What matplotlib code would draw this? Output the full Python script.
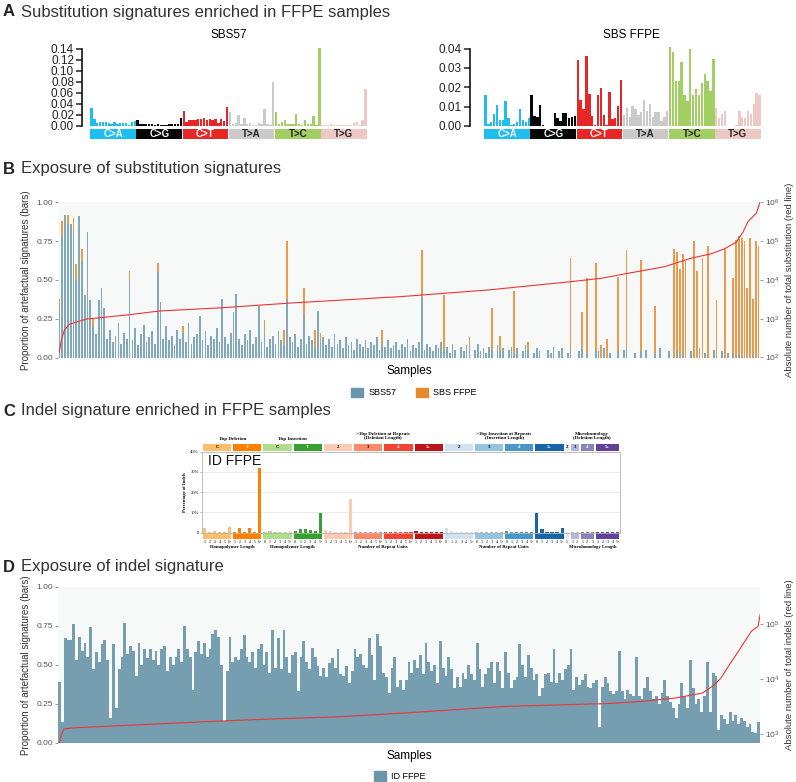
import numpy as np
import matplotlib.pyplot as plt
from matplotlib.patches import Patch
from matplotlib.ticker import NullLocator, LogLocator

plt.rcParams['font.family'] = ['Liberation Sans', 'DejaVu Sans']
SERIF = ['Liberation Serif', 'DejaVu Serif']

W, H = 796, 782

# ---------------- panel A: SBS96 profiles
sbs_types = ['C>A', 'C>G', 'C>T', 'T>A', 'T>C', 'T>G']
sbs57 = [
    0.033, 0.012, 0.005, 0.008, 0.008, 0.007, 0.006, 0.004, 0.008, 0.003, 0.005, 0.006, 0.005, 0.002, 0.008, 0.009,
    0.011, 0.004, 0.003, 0.003, 0.003, 0.003, 0.002, 0.003, 0.002, 0.001, 0.001, 0.003, 0.003, 0.004, 0.003, 0.015,
    0.028, 0.008, 0.010, 0.011, 0.010, 0.013, 0.012, 0.015, 0.010, 0.012, 0.011, 0.013, 0.006, 0.012, 0.009, 0.034,
    0.026, 0.004, 0.006, 0.020, 0.003, 0.014, 0.004, 0.005, 0.001, 0.001, 0.005, 0.004, 0.030, 0.003, 0.001, 0.080,
    0.026, 0.003, 0.008, 0.011, 0.003, 0.003, 0.004, 0.021, 0.003, 0.002, 0.011, 0.003, 0.004, 0.018, 0.002, 0.141,
    0.002, 0.001, 0.001, 0.003, 0.001, 0.001, 0.001, 0.002, 0.001, 0.001, 0.001, 0.005, 0.008, 0.002, 0.011, 0.066,
]
sbs_ffpe = [
    0.016, 0.001, 0.002, 0.006, 0.011, 0.003, 0.003, 0.013, 0.004, 0.0005, 0.001, 0.002, 0.009, 0.003, 0.002, 0.004,
    0.016, 0.005, 0.0045, 0.011, 0.0005, 0.0, 0.0, 0.0, 0.0065, 0.004, 0.0025, 0.0065, 0.0068, 0.004, 0.0045, 0.005,
    0.034, 0.0135, 0.009, 0.036, 0.0165, 0.005, 0.0005, 0.016, 0.0195, 0.0055, 0.0005, 0.0175, 0.0035, 0.004, 0.0105, 0.0235,
    0.0055, 0.0095, 0.0045, 0.0105, 0.009, 0.0055, 0.007, 0.0135, 0.008, 0.0115, 0.0045, 0.007, 0.007, 0.0025, 0.0045, 0.0075,
    0.041, 0.038, 0.023, 0.023, 0.033, 0.016, 0.013, 0.040, 0.016, 0.019, 0.016, 0.022, 0.027, 0.023, 0.018, 0.0345,
    0.0095, 0.004, 0.006, 0.0075, 0.0, 0.0, 0.0, 0.0005, 0.0075, 0.0045, 0.004, 0.0075, 0.006, 0.0115, 0.017, 0.016,
]
sbs57_ticks = [0.00, 0.02, 0.04, 0.06, 0.08, 0.10, 0.12, 0.14]
ffpe_ticks = [0.00, 0.01, 0.02, 0.03, 0.04]

# ---------------- panel B: exposures of SBS57 / SBS FFPE (samples sorted by total)
b_sbs57 = [
    0.31, 0.79, 0.92, 0.86, 0.86, 0.82, 0.50, 0.91, 0.62, 0.40,
    0.81, 0.37, 0.20, 0.15, 0.37, 0.45, 0.32, 0.12, 0.18, 0.10,
    0.14, 0.22, 0.09, 0.16, 0.12, 0.50, 0.11, 0.19, 0.08, 0.15,
    0.21, 0.10, 0.13, 0.17, 0.09, 0.55, 0.36, 0.12, 0.20, 0.11,
    0.14, 0.08, 0.18, 0.12, 0.16, 0.10, 0.22, 0.09, 0.13, 0.15,
    0.27, 0.11, 0.17, 0.08, 0.14, 0.12, 0.19, 0.10, 0.38, 0.13,
    0.09, 0.16, 0.29, 0.41, 0.12, 0.08, 0.15, 0.11, 0.18, 0.09,
    0.13, 0.33, 0.10, 0.16, 0.07, 0.12, 0.14, 0.09, 0.17, 0.11,
    0.08, 0.38, 0.13, 0.10, 0.15, 0.07, 0.12, 0.28, 0.09, 0.14,
    0.11, 0.06, 0.30, 0.10, 0.13, 0.08, 0.12, 0.07, 0.15, 0.09,
    0.11, 0.06, 0.13, 0.08, 0.10, 0.05, 0.12, 0.09, 0.07, 0.11,
    0.06, 0.10, 0.08, 0.13, 0.05, 0.09, 0.07, 0.11, 0.06, 0.08,
    0.10, 0.05, 0.09, 0.07, 0.12, 0.04, 0.08, 0.06, 0.10, 0.39,
    0.05, 0.09, 0.07, 0.04, 0.08, 0.06, 0.10, 0.05, 0.07, 0.03,
    0.09, 0.05, 0.00, 0.07, 0.04, 0.08, 0.06, 0.00, 0.05, 0.09,
    0.04, 0.06, 0.03, 0.07, 0.05, 0.00, 0.08, 0.04, 0.06, 0.00,
    0.05, 0.07, 0.03, 0.06, 0.00, 0.04, 0.08, 0.05, 0.00, 0.03,
    0.06, 0.04, 0.00, 0.00, 0.05, 0.03, 0.07, 0.00, 0.04, 0.06,
    0.00, 0.03, 0.05, 0.00, 0.00, 0.04, 0.06, 0.00, 0.03, 0.00,
    0.00, 0.05, 0.04, 0.00, 0.06, 0.00, 0.03, 0.00, 0.00, 0.04,
    0.00, 0.05, 0.07, 0.00, 0.00, 0.03, 0.00, 0.04, 0.00, 0.05,
    0.00, 0.00, 0.03, 0.00, 0.06, 0.00, 0.00, 0.04, 0.00, 0.00,
    0.05, 0.00, 0.03, 0.00, 0.00, 0.04, 0.00, 0.00, 0.06, 0.00,
    0.03, 0.00, 0.00, 0.05, 0.00, 0.00, 0.04, 0.00, 0.03, 0.00,
    0.02, 0.00, 0.03, 0.00, 0.02, 0.00, 0.00, 0.02, 0.00, 0.00,
]
# SBS FFPE exposure is zero in most samples: sample index -> value
b_ffpe_samples = [0, 1, 3, 5, 6, 8, 12, 25, 35, 44, 73, 80, 81, 87, 91, 93, 115, 129, 137,
                  146, 154, 157, 162, 167, 182, 186, 188, 191, 193, 195, 199, 202, 207, 212,
                  219, 220, 221, 222, 223, 226, 227, 229, 231, 234, 237, 240, 241, 242, 243,
                  244, 245, 246, 247, 248, 249]
b_ffpe_values = [0.07, 0.09, 0.06, 0.08, 0.10, 0.08, 0.05, 0.06, 0.06, 0.04, 0.08, 0.10, 0.37,
                 0.17, 0.12, 0.06, 0.09, 0.30, 0.35, 0.07, 0.27, 0.10, 0.40, 0.05, 0.59, 0.23,
                 0.48, 0.56, 0.08, 0.12, 0.48, 0.62, 0.59, 0.30, 0.70, 0.63, 0.57, 0.64, 0.62,
                 0.75, 0.56, 0.64, 0.72, 0.37, 0.70, 0.49, 0.76, 0.75, 0.77, 0.73, 0.45, 0.77,
                 0.36, 0.75, 0.72]
# total substitutions (red line), read at sample ranks
b_line_sample = [0, 0.7, 1.8, 3.6, 9.6, 24.6, 35.6, 57.7, 81.5, 121.8, 152.7, 181.6, 193,
                 202.5, 215.5, 225, 232, 236.8, 241, 243.5, 245.2, 248.2, 249.5]
b_line_total = [138, 282, 513, 724, 977, 1260, 1580, 1910, 2510, 3720, 5500, 8910, 11000,
                14800, 21900, 36300, 46800, 63100, 93300, 174000, 316000, 525000, 1000000]

# ---------------- panel C: ID83 profile of ID FFPE (%)
id_classes = ['C', 'T', 'C', 'T', '2', '3', '4', '5+', '2', '3', '4', '5+', '2', '3', '4', '5+']
id_class_sizes = [6] * 12 + [1, 2, 3, 5]
id_channel_labels = (['1', '2', '3', '4', '5', '6+'] * 2 + ['0', '1', '2', '3', '4', '5+'] * 2 +
                     ['1', '2', '3', '4', '5', '6+'] * 4 + ['0', '1', '2', '3', '4', '5+'] * 4 +
                     ['1', '1', '2', '1', '2', '3', '1', '2', '3', '4', '5+'])
id_headers = ['1bp Deletion', '1bp Insertion', '>1bp Deletion at Repeats\n(Deletion Length)',
              '>1bp Insertion at Repeats\n(Insertion Length)', 'Microhomology\n(Deletion Length)']
id_footers = ['Homopolymer Length', 'Homopolymer Length', 'Number of Repeat Units',
              'Number of Repeat Units', 'Microhomology Length']
id_section_sizes = [12, 12, 24, 24, 11]
id_ffpe = [
    2.4, 0.4, 0.7, 0.3, 0.2, 3.0,
    0.3, 2.1, 0.4, 2.3, 0.3, 32.0,
    0.2, 0.6, 0.2, 0.1, 0.1, 0.2,
    1.0, 1.8, 1.6, 1.2, 0.8, 9.7,
    1.2, 0.7, 0.3, 0.2, 0.2, 16.5,
    0.2, 0.2, 0.1, 0.1, 0.1, 0.1,
    0.1, 0.1, 0.1, 0.1, 0.1, 0.1,
    0.6, 0.3, 0.3, 0.3, 0.5, 0.3,
    2.1, 0.8, 0.3, 0.2, 0.1, 0.1,
    0.5, 0.2, 0.1, 0.1, 0.1, 0.1,
    0.6, 0.2, 0.1, 0.1, 0.1, 0.1,
    9.5, 1.8, 0.2, 0.1, 0.1, 2.5,
    0.1,
    0.1, 0.1,
    0.1, 0.1, 0.1,
    0.1, 0.2, 0.1, 0.1, 0.1,
]

# ---------------- panel D: exposure of ID FFPE
d_id_ffpe = [
    0.39, 0.13, 0.67, 0.66, 0.66, 0.76, 0.53, 0.68, 0.59, 0.64,
    0.55, 0.74, 0.47, 0.58, 0.52, 0.63, 0.66, 0.53, 0.16, 0.63,
    0.22, 0.47, 0.55, 0.77, 0.57, 0.62, 0.59, 0.43, 0.64, 0.50,
    0.60, 0.54, 0.60, 0.53, 0.59, 0.50, 0.60, 0.62, 0.46,
    0.55, 0.50, 0.55, 0.60, 0.52, 0.75, 0.60, 0.55, 0.34, 0.58,
    0.65, 0.57, 0.64, 0.55, 0.60, 0.70, 0.72, 0.68, 0.50, 0.14,
    0.46, 0.68, 0.52, 0.55, 0.53, 0.60, 0.69, 0.55, 0.52, 0.58,
    0.48, 0.60, 0.63, 0.50, 0.58, 0.45, 0.72, 0.48, 0.67, 0.47,
    0.72, 0.55, 0.45, 0.56, 0.58, 0.33, 0.55, 0.65, 0.52, 0.47,
    0.61, 0.55, 0.49, 0.43, 0.48, 0.42, 0.51, 0.54, 0.48, 0.60,
    0.44, 0.43, 0.49, 0.38, 0.46, 0.60, 0.55, 0.57, 0.50, 0.48,
    0.67, 0.56, 0.40, 0.70, 0.62, 0.45, 0.42, 0.32, 0.48, 0.55,
    0.36, 0.40, 0.34,
    0.40, 0.52, 0.45, 0.53, 0.48, 0.56, 0.44, 0.64, 0.52, 0.46,
    0.50, 0.38, 0.65, 0.48, 0.43, 0.55, 0.47, 0.35, 0.42, 0.36,
    0.45, 0.41, 0.50, 0.44, 0.40, 0.64, 0.47, 0.36, 0.44, 0.48,
    0.52, 0.38, 0.52, 0.46, 0.35, 0.58, 0.45, 0.35, 0.40, 0.42,
    0.63, 0.50, 0.42, 0.56, 0.48, 0.40, 0.44, 0.30, 0.35, 0.44,
    0.45, 0.39, 0.60, 0.38, 0.45, 0.40, 0.47, 0.50, 0.60, 0.34,
    0.42, 0.37, 0.40, 0.44, 0.36, 0.35, 0.38, 0.40, 0.10, 0.36,
    0.42, 0.38, 0.33, 0.31, 0.33, 0.59, 0.33, 0.28, 0.34, 0.31,
    0.30, 0.55, 0.30, 0.28, 0.35, 0.42, 0.33, 0.28, 0.30, 0.25,
    0.32, 0.40, 0.30, 0.26, 0.22, 0.16, 0.25, 0.38, 0.30, 0.22,
    0.53, 0.35, 0.25, 0.28, 0.20, 0.30, 0.52, 0.20, 0.45, 0.43,
    0.08, 0.18, 0.15, 0.12, 0.20, 0.14, 0.18, 0.12, 0.16, 0.14,
    0.10, 0.12, 0.07, 0.06, 0.13,
]
d_line_sample = [0, 0.5, 1, 1.6, 5.4, 26.8, 50.6, 74.3, 98, 121.8, 157.4, 193, 204.8,
                 216.7, 226.2, 229.7, 232.7, 235.7, 239.3, 243.4, 245.8, 247, 249, 249.5]
d_line_total = [690, 890, 1050, 1230, 1290, 1450, 1660, 1860, 2040, 2400, 3160, 3550, 3890,
                4470, 5500, 7240, 10200, 17800, 33900, 72400, 89100, 195000, 245000, 479000]

# ---------------- styles
sbs_colors = ['#1EBFF0', '#050708', '#E62725', '#CBCACB', '#A1CF64', '#EDC8C5']
sbs_text_colors = ['white', 'white', 'white', '#222222', '#222222', '#222222']
id_colors = ['#FDBE6F', '#FF8001', '#B0DD8B', '#36A12E', '#FDCAB5', '#FC8A6A', '#F14432', '#BC141A',
             '#D0E1F2', '#94C4DF', '#4A98C9', '#1764AB', '#E2E2EF', '#B6B6D8', '#8683BD', '#62409B']
id_text_colors = ['black', 'white', 'black', 'white', 'black', 'black', 'white', 'white',
                  'black', 'black', 'white', 'white', 'black', 'black', 'white', 'white']
BLUE = '#6A96AB'
ORANGE = '#E8892B'
RED = '#EE3434'
PANEL_BG = '#F7F9F9'
TITLE_COLOR = '#333333'

fig = plt.figure(figsize=(W / 100, H / 100), dpi=100)


def axes_px(x0, y0, x1, y1):
    # axes from a pixel box measured from the top-left corner
    return fig.add_axes([x0 / W, 1 - y1 / H, (x1 - x0) / W, (y1 - y0) / H])


def panel_title(y, letter, text):
    fig.text(3 / W, 1 - y / H, letter, fontsize=12, weight='bold', va='center', color='#222222')
    fig.text(21 / W, 1 - y / H, text, fontsize=12, va='center', color=TITLE_COLOR)


def sbs_profile(x0, x1, spine_pt, values, ticks, title, title_x):
    ax = axes_px(x0, 48.5, x1, 126)
    ax.bar(np.arange(96), values, width=0.82, color=np.repeat(sbs_colors, 16), clip_on=False)
    ax.set_xlim(-0.5, 95.5)
    ax.set_ylim(0, ticks[-1])
    ax.set_yticks(ticks)
    ax.set_yticklabels([f'{t:.2f}' for t in ticks])
    for s in ['top', 'right', 'bottom']:
        ax.spines[s].set_visible(False)
    ax.spines['left'].set_position(('outward', spine_pt))
    ax.spines['left'].set_linewidth(1.1)
    ax.set_xticks([])
    ax.tick_params(axis='y', labelsize=8.5, length=4, width=1.1, pad=2, colors='#222222')
    fig.text(title_x / W, 1 - 35 / H, title, fontsize=8.5, ha='center', va='center')

    strip = axes_px(x0, 128.5, x1, 139)
    centers = np.arange(6) * 16 + 7.5
    strip.bar(centers, 1, width=15.8, color=sbs_colors)
    for c, lab, tc in zip(centers, sbs_types, sbs_text_colors):
        strip.text(c, 0.5, lab, ha='center', va='center', fontsize=7, color=tc, weight='bold')
    strip.set_xlim(-0.5, 95.5)
    strip.set_ylim(0, 1)
    strip.axis('off')


def exposure_axes(y0, y1, n, line_sample, line_total, log_lim, right_label):
    ax = axes_px(58, y0, 760, y1)
    ax.set_facecolor(PANEL_BG)
    ax.set_xlim(-0.5, n - 0.5)
    ax.set_ylim(0, 1)
    ax.set_xticks([])
    ax.set_yticks([0, 0.25, 0.5, 0.75, 1.0])
    ax.set_yticklabels(['0.00', '0.25', '0.50', '0.75', '1.00'])
    ax.tick_params(axis='y', labelsize=6, length=2, width=0.6, color='#888888',
                   labelcolor='#555555', pad=1.5)
    for s in ax.spines.values():
        s.set_visible(False)
    ax.set_ylabel('Proportion of artefactual signatures (bars)', fontsize=7, color='#333333')
    ax.yaxis.set_label_coords(-0.038, 0.5)

    ax2 = ax.twinx()
    ax2.plot(line_sample, line_total, color=RED, lw=0.8)
    ax2.set_yscale('log')
    ax2.set_ylim(*log_lim)
    ax2.yaxis.set_major_locator(LogLocator(base=10))
    ax2.yaxis.set_minor_locator(NullLocator())
    ax2.tick_params(axis='y', labelsize=6, length=2, width=0.6, color='#888888',
                    labelcolor='#555555', pad=1.5)
    for s in ax2.spines.values():
        s.set_visible(False)
    ax2.set_ylabel(right_label, fontsize=6.8, color='#333333', rotation=90)
    ax2.yaxis.set_label_coords(1.035, 0.5)
    ax.text(0.5, -0.087, 'Samples', transform=ax.transAxes, ha='center', va='center', fontsize=8.5)
    return ax


# ---- A
panel_title(12, 'A', 'Substitution signatures enriched in FFPE samples')
sbs_profile(90, 367, 5.5, sbs57, sbs57_ticks, 'SBS57', 229)
sbs_profile(484, 761, 10, sbs_ffpe, ffpe_ticks, 'SBS FFPE', 631)

# ---- B
panel_title(169, 'B', 'Exposure of substitution signatures')
n_b = len(b_sbs57)
b_ffpe = np.zeros(n_b)
b_ffpe[b_ffpe_samples] = b_ffpe_values
axb = exposure_axes(202.3, 357.5, n_b, b_line_sample, b_line_total, (1e2, 1e6),
                    'Absolute number of total substitution (red line)')
xb = np.arange(n_b)
axb.bar(xb, b_sbs57, width=0.62, color=BLUE, alpha=0.82, linewidth=0)
axb.bar(xb, b_ffpe, bottom=b_sbs57, width=0.62, color=ORANGE, alpha=0.85, linewidth=0)
fig.legend(handles=[Patch(color=BLUE), Patch(color=ORANGE)], labels=['SBS57', 'SBS FFPE'],
           loc='center', bbox_to_anchor=(414 / W, 1 - 392.5 / H), ncol=2, frameon=False,
           fontsize=6.5, handlelength=1.3, handleheight=1.3, columnspacing=2.2, handletextpad=0.6)

# ---- C
panel_title(411, 'C', 'Indel signature enriched in FFPE samples')
axc = axes_px(202, 451.7, 620, 532.7)
ch = np.arange(len(id_ffpe))
axc.bar(ch, id_ffpe, width=0.62, color=np.repeat(id_colors, id_class_sizes), zorder=3)
axc.set_xlim(-0.5, 82.5)
axc.set_ylim(0, 40)
axc.set_xticks([])
axc.set_yticks([0, 10, 20, 30, 40])
axc.set_yticklabels(['0', '10%', '20%', '30%', '40%'], family=SERIF)
axc.tick_params(axis='y', labelsize=3.3, length=1.5, width=0.4, pad=0.8, color='#888888')
axc.grid(axis='y', color='#E2E2E2', lw=0.5)
for s in axc.spines.values():
    s.set_color('#B5B5B5')
    s.set_linewidth(0.6)
axc.set_ylabel('Percentage of Indels', fontsize=3.3, family=SERIF, weight='bold')
axc.yaxis.set_label_coords(-0.036, 0.5)
axc.text(0.6, 35.5, 'ID FFPE', fontsize=10, ha='left', va='center', color='#111111')

starts = np.cumsum([0] + id_class_sizes[:-1])
for st, size, lab, col, tc in zip(starts, id_class_sizes, id_classes, id_colors, id_text_colors):
    c = st + size / 2 - 0.5
    axc.bar(c, 3.3, width=size - 0.4, bottom=40.45, color=col, clip_on=False)
    axc.bar(c, 3.1, width=size - 0.4, bottom=-3.3, color=col, clip_on=False)
    axc.text(c, 42.1, lab, fontsize=3.5, ha='center', va='center', color=tc,
             family=SERIF, weight='bold', clip_on=False)
for i, lab in enumerate(id_channel_labels):
    axc.text(i, -4.5, lab, fontsize=2.9, ha='center', va='center', family=SERIF, clip_on=False)
sec_starts = np.cumsum([0] + id_section_sizes[:-1])
for st, size, head, foot in zip(sec_starts, id_section_sizes, id_headers, id_footers):
    c = st + size / 2 - 0.5
    axc.text(c, 46.4 if '\n' not in head else 47.9, head, fontsize=3.6, ha='center', va='center',
             family=SERIF, weight='bold', linespacing=1.1, clip_on=False)
    axc.text(c, -7.2, foot, fontsize=3.4, ha='center', va='center', family=SERIF,
             weight='bold', clip_on=False)

# ---- D
panel_title(567, 'D', 'Exposure of indel signature')
n_d = len(d_id_ffpe)
axd = exposure_axes(586.7, 742.7, n_d, d_line_sample, d_line_total, (10 ** 2.84, 10 ** 5.67),
                    'Absolute number of total indels (red line)')
axd.bar(np.arange(n_d), d_id_ffpe, width=1.0, color=BLUE, alpha=0.92, linewidth=0)
fig.legend(handles=[Patch(color=BLUE)], labels=['ID FFPE'], loc='center',
           bbox_to_anchor=(400 / W, 1 - 776 / H), frameon=False, fontsize=6.5,
           handlelength=1.3, handleheight=1.3, handletextpad=0.6)

fig.savefig('out.png', dpi=100)
